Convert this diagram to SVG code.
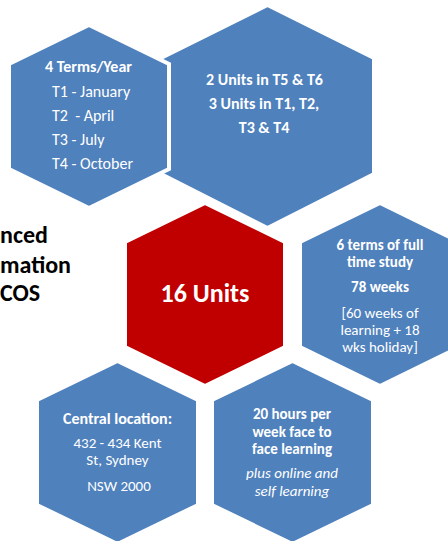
<svg xmlns="http://www.w3.org/2000/svg" width="448" height="541" viewBox="0 0 448 541">
<style>
.hex{fill:#4F81BD;stroke:#FFFFFF;stroke-width:4;stroke-linejoin:miter}
.red{fill:#C00000}
text{font-family:Carlito,Lato,"Open Sans",sans-serif;fill:#FFFFFF;font-size:16px}
.c{text-anchor:middle}
.b{font-weight:bold}
.i{font-style:italic}
.s{font-size:15px}
.blk{fill:#000000;font-weight:bold;font-size:24px}
</style>
<g id="title">
<text class="blk" x="0" y="243">nced</text>
<text class="blk" x="0" y="273">mation</text>
<text class="blk" x="0" y="301">COS</text>
</g>
<g id="units-split">
<polygon class="hex" points="267.5,5 374,58 374,174 267.5,228 161,174 161,58"/>
<text class="c b" x="264.5" y="85">2 Units in T5 &amp; T6</text>
<text class="c b" x="264" y="109">3 Units in T1, T2,</text>
<text class="c b" x="264" y="133">T3 &amp; T4</text>
</g>
<g id="terms">
<polygon class="hex" points="89,25 169,64 169,169 89,208 9,169 9,64"/>
<text class="c b" x="88.5" y="72">4 Terms/Year</text>
<text x="52" y="97">T1 - January</text>
<text x="52" y="121" xml:space="preserve">T2  - April</text>
<text x="52" y="145">T3 - July</text>
<text x="52" y="169">T4 - October</text>
</g>
<g id="units">
<polygon class="hex red" points="205,203 285,242 285,347 205,386 125,347 125,242"/>
<text class="c b" x="205" y="302" style="font-size:26px">16 Units</text>
</g>
<g id="duration">
<polygon class="hex" points="380,203 460,242 460,347 380,386 300,347 300,242"/>
<text class="c b s" x="380" y="250">6 terms of full</text>
<text class="c b s" x="380" y="267">time study</text>
<text class="c b s" x="380" y="292">78 weeks</text>
<text class="c s" x="380" y="318">[60 weeks of</text>
<text class="c s" x="380" y="335">learning + 18</text>
<text class="c s" x="380" y="352">wks holiday]</text>
</g>
<g id="location">
<polygon class="hex" points="117.5,361 198,400 198,505 117.5,544 37,505 37,400"/>
<text class="c b" x="117.5" y="424">Central location:</text>
<text class="c s" x="117.5" y="448">432 - 434 Kent</text>
<text class="c s" x="117.5" y="465">St, Sydney</text>
<text class="c s" x="119" y="491">NSW 2000</text>
</g>
<g id="hours">
<polygon class="hex" points="292.5,361 373,400 373,505 292.5,544 212,505 212,400"/>
<text class="c b s" x="292" y="419">20 hours per</text>
<text class="c b s" x="292" y="436.5">week face to</text>
<text class="c b s" x="292" y="454">face learning</text>
<text class="c i s" x="292" y="478">plus online and</text>
<text class="c i s" x="292" y="496">self learning</text>
</g>
<g id="connectors"></g>
</svg>
